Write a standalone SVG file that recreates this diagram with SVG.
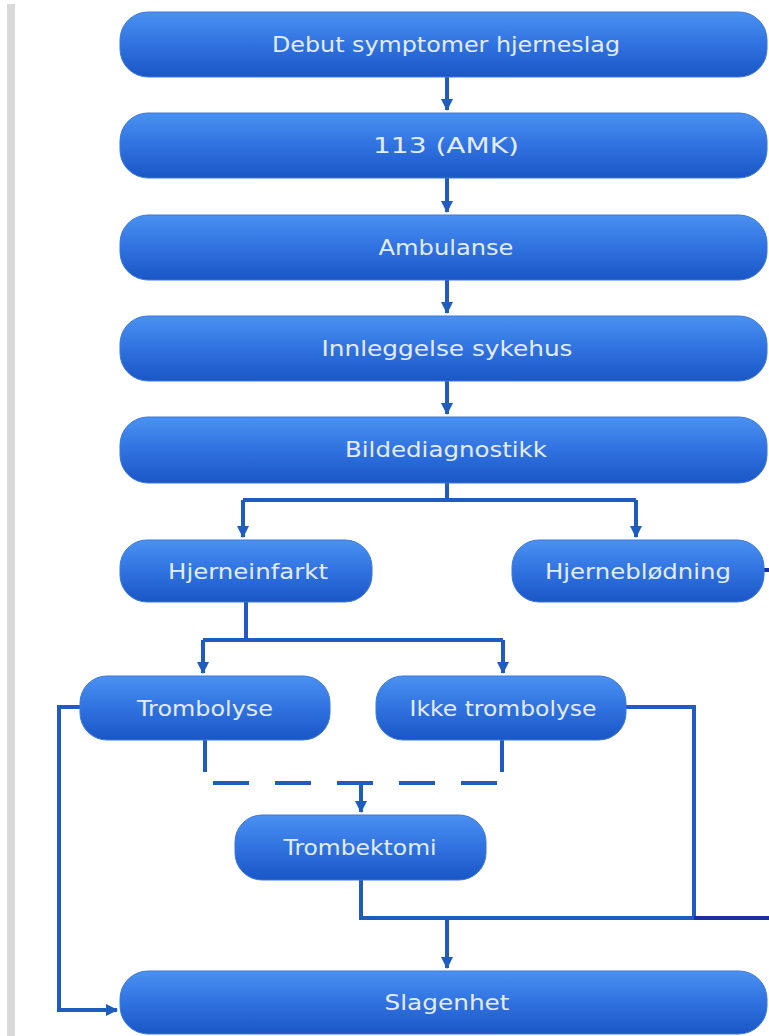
<svg xmlns="http://www.w3.org/2000/svg" width="769" height="1036" viewBox="0 0 769 1036">
  <defs>
    <linearGradient id="boxFill" x1="0" y1="0" x2="0" y2="1">
      <stop offset="0" stop-color="#4a91f2"/>
      <stop offset="0.5" stop-color="#3072e0"/>
      <stop offset="1" stop-color="#1a56c6"/>
    </linearGradient>
    <marker id="arrow" viewBox="0 0 12 12" refX="11" refY="6" markerWidth="12" markerHeight="12" markerUnits="userSpaceOnUse" orient="auto">
      <path d="M0,0 L12,6 L0,12 Z" fill="#1f5cc0"/>
    </marker>
  </defs>
  <style>
    .box { fill: url(#boxFill); stroke: #3a78d8; stroke-width: 1; }
    .label { font-family: "DejaVu Sans", "Open Sans", sans-serif; font-size: 22px; fill: #e3ecfc; text-anchor: middle; }
    .wire { fill: none; stroke: #1f5cc0; stroke-width: 4; }
    .navy { fill: none; stroke: #1c2fa0; stroke-width: 4; }
    .dash { fill: none; stroke: #1f5cc0; stroke-width: 4; stroke-dasharray: 36 26; }
  </style>

  <rect width="769" height="1036" fill="#ffffff"/>
  <!-- page margin rule -->
  <rect x="7" y="4" width="8" height="1032" fill="#d9d9d9"/>

  <g id="connectors">
    <path class="wire" d="M447,77 V110" marker-end="url(#arrow)"/>
    <path class="wire" d="M447,178 V212" marker-end="url(#arrow)"/>
    <path class="wire" d="M447,280 V313" marker-end="url(#arrow)"/>
    <path class="wire" d="M447,381 V414" marker-end="url(#arrow)"/>
    <path class="wire" d="M447,483 V500"/>
    <path class="wire" d="M243,500 H636"/>
    <path class="wire" d="M243,500 V537" marker-end="url(#arrow)"/>
    <path class="wire" d="M636,500 V537" marker-end="url(#arrow)"/>
    <path class="navy" d="M764,570 H769"/>
    <path class="wire" d="M246,602 V640"/>
    <path class="wire" d="M203,640 H503"/>
    <path class="wire" d="M203,640 V673" marker-end="url(#arrow)"/>
    <path class="wire" d="M503,640 V673" marker-end="url(#arrow)"/>
    <path class="wire" d="M205,740 V772"/>
    <path class="wire" d="M502,740 V772"/>
    <path class="dash" d="M213,783 H497"/>
    <path class="wire" d="M361,783 V812" marker-end="url(#arrow)"/>
    <path class="wire" d="M80,707 H59 V1010 H117" marker-end="url(#arrow)"/>
    <path class="wire" d="M626,707 H694 V918"/>
    <path class="wire" d="M361,880 V918 H694"/>
    <path class="navy" d="M694,918 H769"/>
    <path class="wire" d="M447,918 V968" marker-end="url(#arrow)"/>
  </g>

  <g id="debut">
    <rect class="box" x="120" y="12" width="647" height="65" rx="28"/>
    <text class="label" x="446" y="52" textLength="348" lengthAdjust="spacingAndGlyphs">Debut symptomer hjerneslag</text>
  </g>
  <g id="amk">
    <rect class="box" x="120" y="113" width="647" height="65" rx="28"/>
    <text class="label" x="446" y="153" textLength="146" lengthAdjust="spacingAndGlyphs">113 (AMK)</text>
  </g>
  <g id="ambulanse">
    <rect class="box" x="120" y="215" width="647" height="65" rx="28"/>
    <text class="label" x="446" y="255" textLength="135" lengthAdjust="spacingAndGlyphs">Ambulanse</text>
  </g>
  <g id="innleggelse">
    <rect class="box" x="120" y="316" width="647" height="65" rx="28"/>
    <text class="label" x="447" y="356" textLength="251" lengthAdjust="spacingAndGlyphs">Innleggelse sykehus</text>
  </g>
  <g id="bildediagnostikk">
    <rect class="box" x="120" y="417" width="647" height="66" rx="28"/>
    <text class="label" x="446" y="457" textLength="202" lengthAdjust="spacingAndGlyphs">Bildediagnostikk</text>
  </g>
  <g id="hjerneinfarkt">
    <rect class="box" x="120" y="540" width="252" height="62" rx="27"/>
    <text class="label" x="248" y="579" textLength="160" lengthAdjust="spacingAndGlyphs">Hjerneinfarkt</text>
  </g>
  <g id="hjerneblodning">
    <rect class="box" x="512" y="540" width="252" height="62" rx="27"/>
    <text class="label" x="638" y="579" textLength="186" lengthAdjust="spacingAndGlyphs">Hjerneblødning</text>
  </g>
  <g id="trombolyse">
    <rect class="box" x="80" y="676" width="250" height="64" rx="27"/>
    <text class="label" x="205" y="716" textLength="136" lengthAdjust="spacingAndGlyphs">Trombolyse</text>
  </g>
  <g id="ikke-trombolyse">
    <rect class="box" x="376" y="676" width="250" height="64" rx="27"/>
    <text class="label" x="503" y="716" textLength="187" lengthAdjust="spacingAndGlyphs">Ikke trombolyse</text>
  </g>
  <g id="trombektomi">
    <rect class="box" x="235" y="815" width="251" height="65" rx="27"/>
    <text class="label" x="360" y="855" textLength="153" lengthAdjust="spacingAndGlyphs">Trombektomi</text>
  </g>
  <g id="slagenhet">
    <rect class="box" x="120" y="971" width="647" height="63" rx="28"/>
    <text class="label" x="447" y="1010" textLength="125" lengthAdjust="spacingAndGlyphs">Slagenhet</text>
  </g>
</svg>
